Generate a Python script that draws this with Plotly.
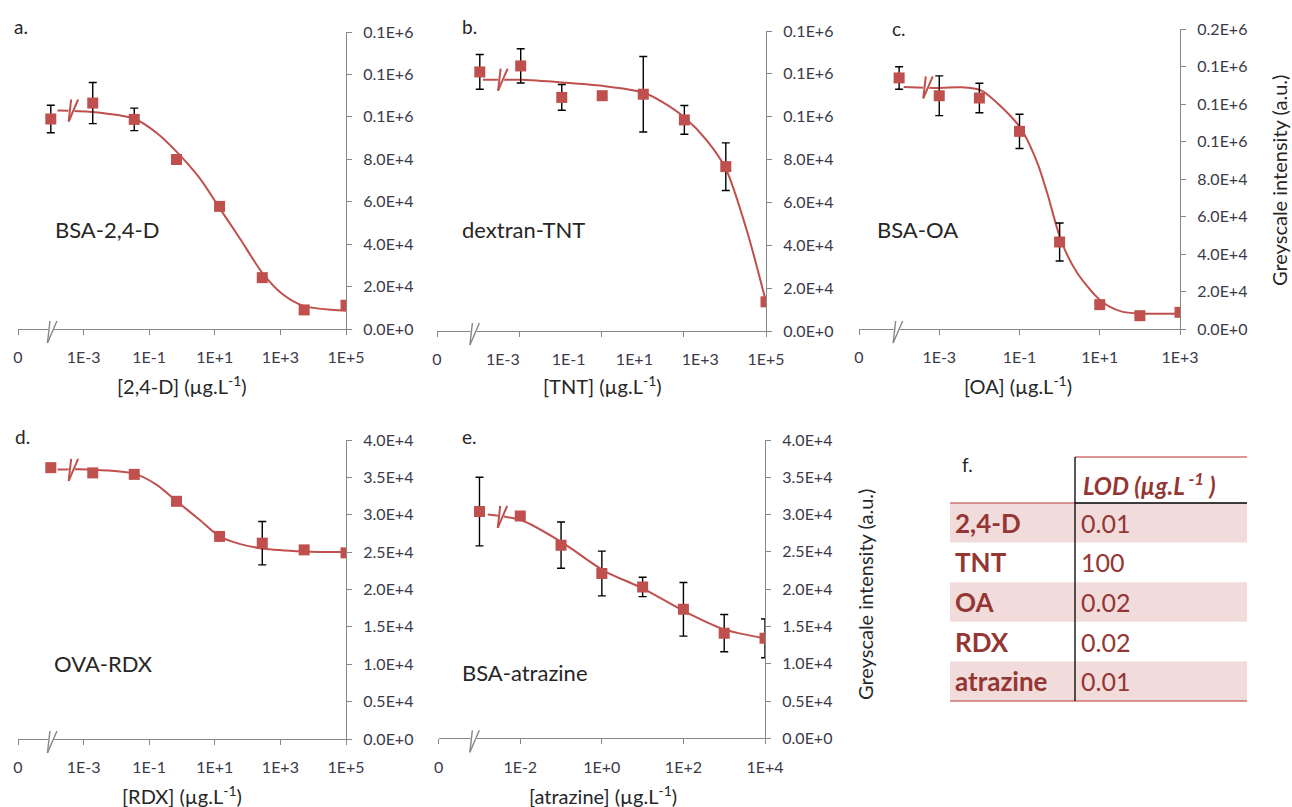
import plotly.graph_objects as go

W, H = 1292, 807
RED = "#C0504D"
GREY = "#868686"
TICK_TXT = "#3A3A48"
TXT = "#262626"
FONT = "Lato"

# ---------------- data ----------------
# a. BSA-2,4-D
a_conc = [1e-4, 1.9e-3, 3.5e-2, 0.68, 14, 280, 5.3e3, 1e5]
a_signal = [99000, 106500, 98800, 79900, 57800, 24200, 9000, 11200]
a_err = [6500, 9700, 5300, 1000, 1200, 0, 0, 0]
a_fit_conc = [1.6e-4, 1.8e-3, 3.5e-2, 0.17, 0.69, 3.5, 14, 57, 280, 1150, 5.1e3, 1e5]
a_fit_signal = [103000, 102300, 99100, 92400, 83500, 71000, 57000, 42900, 26500, 16500, 10900, 8600]

# b. dextran-TNT
b_conc = [2.0e-4, 3.5e-3, 6.2e-2, 1.05, 18.6, 330, 6.0e3, 1e5]
b_signal = [120900, 123700, 109000, 109800, 110500, 98500, 76700, 13600]
b_err = [8100, 8000, 6000, 0, 17600, 6700, 11100, 0]
b_fit_conc = [2.5e-4, 3.5e-3, 6.2e-2, 1.05, 18.6, 74, 330, 1.6e3, 6.0e3, 2.6e4, 1e5]
b_fit_signal = [117200, 117200, 116000, 114400, 111300, 106700, 99700, 88800, 75700, 47000, 13600]

# c. BSA-OA
c_conc = [1e-4, 1e-3, 1e-2, 0.1, 1, 10, 100, 1000]
c_signal = [133900, 124400, 123200, 105400, 46400, 13000, 7100, 8900]
c_err = [6000, 10600, 7900, 9100, 10100, 0, 0, 0]
c_fit_conc = [1.3e-4, 1.07e-3, 3.4e-3, 1.1e-2, 3.4e-2, 0.11, 0.28, 0.49, 1.12, 2.75, 11, 34, 112, 1000]
c_fit_signal = [129100, 128600, 128900, 127300, 118800, 106700, 88500, 72500, 46400, 29900, 14800, 9400, 8200, 8200]

# d. OVA-RDX
d_conc = [1e-4, 1.9e-3, 3.5e-2, 0.68, 14, 280, 5.3e3, 1e5]
d_signal = [36300, 35600, 35400, 31800, 27100, 26200, 25300, 24900]
d_err = [0, 0, 0, 0, 500, 2900, 0, 0]
d_fit_conc = [1.6e-4, 1.8e-3, 3.5e-2, 0.17, 0.69, 3.5, 14, 57, 280, 5.1e3, 1e5]
d_fit_signal = [36050, 36050, 35500, 34000, 31800, 29300, 27100, 26100, 25500, 25100, 25000]

# e. BSA-atrazine
e_conc = [1e-3, 1e-2, 0.1, 1, 10, 100, 1000, 1e4]
e_signal = [30400, 29800, 25900, 22100, 20300, 17300, 14100, 13400]
e_err = [4600, 0, 3100, 3000, 1300, 3600, 2500, 2600]
e_fit_conc = [1.6e-3, 1.1e-2, 0.11, 1.1, 10, 100, 1000, 1e4]
e_fit_signal = [30000, 29200, 26200, 22500, 20100, 17100, 14600, 13400]

# tick labels
x_tickvals_5 = [1e-5, 1e-3, 1e-1, 1e1, 1e3, 1e5]
x_ticktext_5 = ["0", "1E-3", "1E-1", "1E+1", "1E+3", "1E+5"]
x_tickmarks_b = [1e-5, 3.16e-3, 1, 316, 1e5]       # panel b: tick marks sit between labels
x_tickvals_c = [1e-5, 1e-3, 1e-1, 1e1, 1e3]
x_ticktext_c = ["0", "1E-3", "1E-1", "1E+1", "1E+3"]
x_tickvals_e = [1e-4, 1e-2, 1, 1e2, 1e4]
x_ticktext_e = ["0", "1E-2", "1E+0", "1E+2", "1E+4"]

y_tickvals_ab = [0, 20000, 40000, 60000, 80000, 100000, 120000, 140000]
y_ticktext_ab = ["0.0E+0", "2.0E+4", "4.0E+4", "6.0E+4", "8.0E+4", "0.1E+6", "0.1E+6", "0.1E+6"]
y_tickvals_c = [0, 20000, 40000, 60000, 80000, 100000, 120000, 140000, 160000]
y_ticktext_c = ["0.0E+0", "2.0E+4", "4.0E+4", "6.0E+4", "8.0E+4", "0.1E+6", "0.1E+6", "0.1E+6", "0.2E+6"]
y_tickvals_de = [0, 5000, 10000, 15000, 20000, 25000, 30000, 35000, 40000]
y_ticktext_de = ["0.0E+0", "0.5E+4", "1.0E+4", "1.5E+4", "2.0E+4", "2.5E+4", "3.0E+4", "3.5E+4", "4.0E+4"]

panel_letters = ["a.", "b.", "c.", "d.", "e."]
panel_names = ["BSA-2,4-D", "dextran-TNT", "BSA-OA", "OVA-RDX", "BSA-atrazine"]
x_titles = ["[2,4-D] (µg.L<sup>-1</sup>)", "[TNT] (µg.L<sup>-1</sup>)", "[OA] (µg.L<sup>-1</sup>)",
            "[RDX] (µg.L<sup>-1</sup>)", "[atrazine] (µg.L<sup>-1</sup>)"]
y_title = "Greyscale intensity (a.u.)"

lod_analytes = ["2,4-D", "TNT", "OA", "RDX", "atrazine"]
lod_values = ["0.01", "100", "0.02", "0.02", "0.01"]

# ---------------- layout helpers ----------------
def px(x):
    return x / W

def py(y):
    return 1 - y / H

panels = [
    dict(conc=a_conc, sig=a_signal, err=a_err, fx=a_fit_conc, fy=a_fit_signal,
         dx=(18, 346), dy=(32, 329), xr=(-5, 5), yr=(0, 140000),
         xtv=x_tickvals_5, xtt=x_ticktext_5, ytv=y_tickvals_ab, ytt=y_ticktext_ab,
         axbreak=7.9e-5, cbreak=(3.5e-4, 103000), marks=None,
         letter=(12, 27), name=(53, 229), xtitle=(182, 385)),
    dict(conc=b_conc, sig=b_signal, err=b_err, fx=b_fit_conc, fy=b_fit_signal,
         dx=(437, 766), dy=(31, 331), xr=(-5, 5), yr=(0, 140000),
         xtv=x_tickvals_5, xtt=x_ticktext_5, ytv=y_tickvals_ab, ytt=y_ticktext_ab,
         axbreak=1.0e-4, cbreak=(7.2e-4, 117300), marks=x_tickmarks_b,
         letter=(460, 27), name=(460, 229), xtitle=(602, 385)),
    dict(conc=c_conc, sig=c_signal, err=c_err, fx=c_fit_conc, fy=c_fit_signal,
         dx=(859, 1180), dy=(29, 329), xr=(-5, 3), yr=(0, 160000),
         xtv=x_tickvals_c, xtt=x_ticktext_c, ytv=y_tickvals_c, ytt=y_ticktext_c,
         axbreak=7.1e-5, cbreak=(4.0e-4, 128900), marks=None,
         letter=(890, 28), name=(875, 229), xtitle=(1018, 385)),
    dict(conc=d_conc, sig=d_signal, err=d_err, fx=d_fit_conc, fy=d_fit_signal,
         dx=(18, 346), dy=(440, 739), xr=(-5, 5), yr=(0, 40000),
         xtv=x_tickvals_5, xtt=x_ticktext_5, ytv=y_tickvals_de, ytt=y_ticktext_de,
         axbreak=7.9e-5, cbreak=(3.5e-4, 36000), marks=None,
         letter=(13, 436), name=(52, 663), xtitle=(182, 795)),
    dict(conc=e_conc, sig=e_signal, err=e_err, fx=e_fit_conc, fy=e_fit_signal,
         dx=(438.7, 765), dy=(440, 738.3), xr=(-4, 4), yr=(0, 40000),
         xtv=x_tickvals_e, xtt=x_ticktext_e, ytv=y_tickvals_de, ytt=y_ticktext_de,
         axbreak=5.8e-4, cbreak=(2.8e-3, 29700), marks=None,
         letter=(460, 436), name=(460, 672), xtitle=(603, 795)),
]

fig = go.Figure()
shapes = []
annotations = []
layout = {}

def brk(xref, yref, xanchor, yanchor, color, width, dy=0):
    out = []
    out.append(dict(type="line", xref=xref, yref=yref, xsizemode="pixel", ysizemode="pixel",
                    xanchor=xanchor, yanchor=yanchor, x0=-6, x1=6, y0=-11 + dy, y1=11 + dy,
                    line=dict(color="white", width=6), layer="above"))
    for off in (-3.5, 3.5):
        out.append(dict(type="line", xref=xref, yref=yref, xsizemode="pixel", ysizemode="pixel",
                        xanchor=xanchor, yanchor=yanchor, x0=off - 6, x1=off + 6, y0=-11 + dy, y1=11 + dy,
                        line=dict(color=color, width=width), layer="above"))
    return out

extra_axis = 6
for i, p in enumerate(panels, start=1):
    xa = "x" if i == 1 else f"x{i}"
    ya = "y" if i == 1 else f"y{i}"
    fig.add_trace(go.Scatter(x=p["fx"], y=p["fy"], mode="lines",
                             line=dict(color=RED, width=2, shape="spline", smoothing=0.8),
                             xaxis=xa, yaxis=ya, showlegend=False, hoverinfo="skip"))
    fig.add_trace(go.Scatter(x=p["conc"], y=p["sig"], mode="markers",
                             marker=dict(symbol="square", size=11, color=RED, line=dict(width=0)),
                             error_y=dict(type="data", array=p["err"], color="black", thickness=1.4, width=4),
                             xaxis=xa, yaxis=ya, showlegend=False))
    xkey = "xaxis" if i == 1 else f"xaxis{i}"
    ykey = "yaxis" if i == 1 else f"yaxis{i}"
    has_marks = p["marks"] is not None
    layout[xkey] = dict(type="log", domain=[px(p["dx"][0]), px(p["dx"][1])], range=list(p["xr"]),
                        anchor=ya, showline=True, linecolor=GREY, linewidth=1.2, automargin=False,
                        ticks="" if has_marks else "outside", ticklen=5, tickcolor=GREY, tickwidth=1.2,
                        tickvals=p["xtv"], ticktext=p["xtt"], showgrid=False, zeroline=False,
                        tickfont=dict(family=FONT, size=16, color=TICK_TXT),
                        ticklabelstandoff=14 if has_marks else 9)
    if has_marks:
        mk = f"xaxis{extra_axis}"
        layout[mk] = dict(type="log", overlaying=xa, domain=[px(p["dx"][0]), px(p["dx"][1])],
                          range=list(p["xr"]), anchor=ya, side="bottom", showline=False,
                          automargin=False, ticks="outside", ticklen=5, tickcolor=GREY, tickwidth=1.2,
                          tickvals=p["marks"], showticklabels=False, showgrid=False, zeroline=False)
        fig.add_trace(go.Scatter(x=[], y=[], xaxis=f"x{extra_axis}", yaxis=ya, showlegend=False,
                                 hoverinfo="skip"))
        extra_axis += 1
    layout[ykey] = dict(domain=[py(p["dy"][1]), py(p["dy"][0])], range=list(p["yr"]),
                        anchor=xa, side="right", showline=True, linecolor=GREY, linewidth=1.2,
                        automargin=False,
                        ticks="outside", ticklen=5, tickcolor=GREY, tickwidth=1.2,
                        tickvals=p["ytv"], ticktext=p["ytt"], showgrid=False, zeroline=False,
                        tickfont=dict(family=FONT, size=16, color=TICK_TXT), ticklabelstandoff=8)
    # axis break: y in paper units (axis bottom) so the mark is not clipped by the plot area
    shapes += brk(xa, "paper", p["axbreak"], py(p["dy"][1]), GREY, 1.4, dy=-3)
    shapes += brk(xa, ya, p["cbreak"][0], p["cbreak"][1], RED, 2)

    annotations.append(dict(text=panel_letters[i - 1], x=px(p["letter"][0]), y=py(p["letter"][1]),
                            xref="paper", yref="paper", xanchor="left", yanchor="middle", showarrow=False,
                            font=dict(family=FONT, size=19, color=TXT)))
    annotations.append(dict(text=panel_names[i - 1], x=px(p["name"][0]), y=py(p["name"][1]),
                            xref="paper", yref="paper", xanchor="left", yanchor="middle", showarrow=False,
                            font=dict(family=FONT, size=22, color=TXT)))
    annotations.append(dict(text=x_titles[i - 1], x=px(p["xtitle"][0]), y=py(p["xtitle"][1]),
                            xref="paper", yref="paper", xanchor="center", yanchor="middle", showarrow=False,
                            font=dict(family=FONT, size=20, color=TXT)))

for (xx, yy) in [(1279, 181), (865, 595)]:
    annotations.append(dict(text=y_title, x=px(xx), y=py(yy), xref="paper", yref="paper",
                            xanchor="center", yanchor="middle", textangle=-90, showarrow=False,
                            font=dict(family=FONT, size=20, color=TXT)))

# ---------------- f. table ----------------
TBL_RED = "#943634"
SHADE = "#F2DCDB"
LINE_RED = "#D07370"
t_left, t_mid, t_right = 950, 1075, 1247
t_top, t_head = 457, 503
row_h = 39.6
annotations.append(dict(text="f.", x=px(960), y=py(464), xref="paper", yref="paper", xanchor="left",
                        yanchor="middle", showarrow=False, font=dict(family=FONT, size=19, color=TXT)))
annotations.append(dict(text="<b><i>LOD (µg.L<sup> -1</sup> )</i></b>", x=px(t_mid + 6), y=py(484),
                        xref="paper", yref="paper", xanchor="left", yanchor="middle", showarrow=False,
                        font=dict(family=FONT, size=24, color=TBL_RED)))
for k, (an, val) in enumerate(zip(lod_analytes, lod_values)):
    y0 = t_head + k * row_h
    y1 = y0 + row_h
    if k % 2 == 0:
        shapes.append(dict(type="rect", xref="paper", yref="paper", x0=px(t_left), x1=px(t_right),
                           y0=py(y1), y1=py(y0), fillcolor=SHADE, line=dict(width=0), layer="below"))
    annotations.append(dict(text=f"<b>{an}</b>", x=px(t_left + 3), y=py((y0 + y1) / 2), xref="paper", yref="paper",
                            xanchor="left", yanchor="middle", showarrow=False,
                            font=dict(family=FONT, size=26, color=TBL_RED)))
    annotations.append(dict(text=val, x=px(t_mid + 4), y=py((y0 + y1) / 2), xref="paper", yref="paper",
                            xanchor="left", yanchor="middle", showarrow=False,
                            font=dict(family=FONT, size=25, color=TBL_RED)))
t_bottom = t_head + len(lod_analytes) * row_h
for (x0, y0, x1, y1, c, w) in [
    (t_mid, t_top, t_right, t_top, LINE_RED, 1.3),
    (t_left, t_head, t_mid, t_head, LINE_RED, 1.3),
    (t_mid, t_head, t_right, t_head, "black", 1.3),
    (t_left, t_bottom, t_right, t_bottom, LINE_RED, 1.5),
    (t_mid, t_top, t_mid, t_bottom, "black", 1.3),
]:
    shapes.append(dict(type="line", xref="paper", yref="paper", x0=px(x0), x1=px(x1), y0=py(y0), y1=py(y1),
                       line=dict(color=c, width=w)))

fig.update_layout(width=W, height=H, margin=dict(l=0, r=0, t=0, b=0, pad=0, autoexpand=False),
                  paper_bgcolor="white", plot_bgcolor="white", shapes=shapes, annotations=annotations,
                  showlegend=False, font=dict(family=FONT), hovermode=False, **layout)
fig.write_html("out.html", config={"displayModeBar": False},
               post_script="document.body.style.margin='0';document.body.style.overflow='hidden';")
